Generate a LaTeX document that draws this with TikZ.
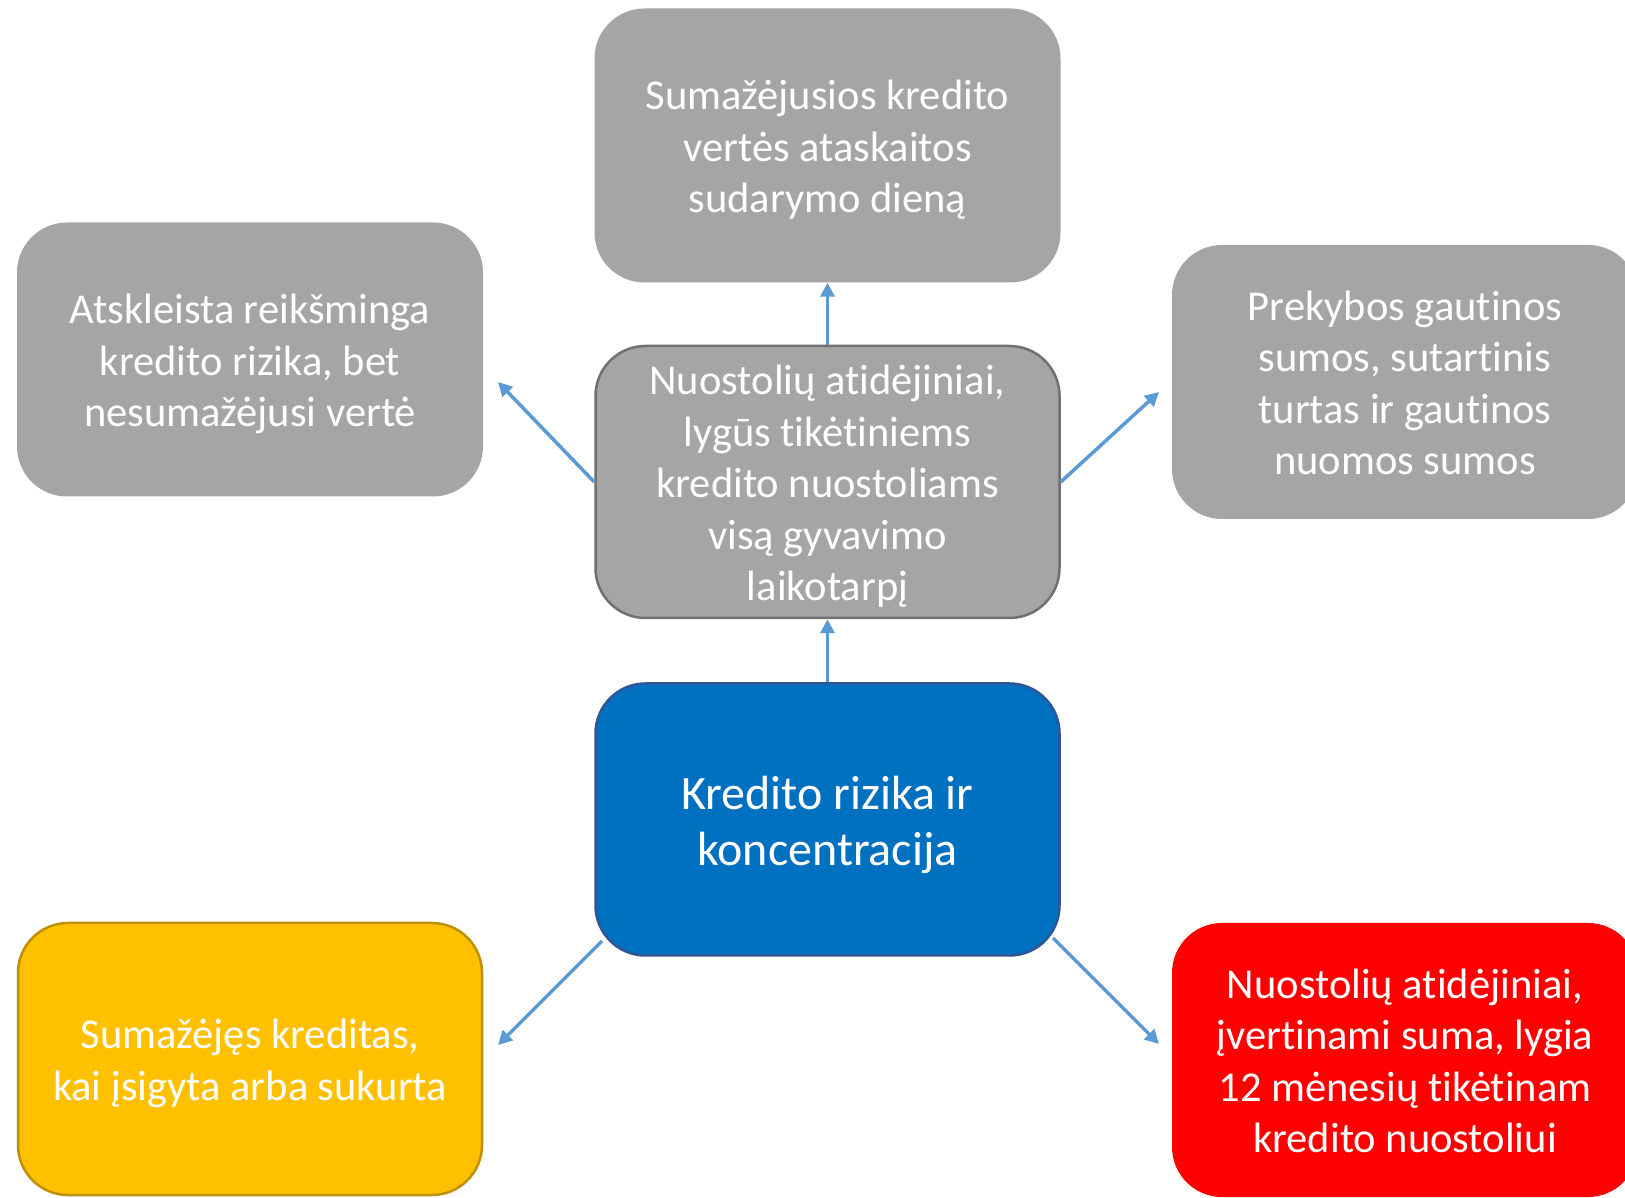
\documentclass[tikz,border=0pt]{standalone}
\usepackage{fontspec}
\setmainfont[RawFeature={-liga;-clig;-calt;-dlig}]{Carlito}
\usetikzlibrary{arrows.meta}
\definecolor{boxgray}{HTML}{A5A5A5}
\definecolor{grayedge}{HTML}{707070}
\definecolor{boxblue}{HTML}{0070C0}
\definecolor{blueedge}{HTML}{2F5597}
\definecolor{boxyellow}{HTML}{FFC000}
\definecolor{yellowedge}{HTML}{BF9000}
\definecolor{boxred}{HTML}{FF0000}
\definecolor{arrowblue}{HTML}{5B9BD5}
\newcommand\cardtop{\rule{0pt}{1.13em}}
\begin{document}
\begin{tikzpicture}[x=1pt,y=1pt,
  card/.style={rectangle, rounded corners=50pt, minimum width=466pt, minimum height=274pt,
    inner sep=0pt, align=center, text=white, font=\fontsize{42.5}{51.5}\selectfont,
    execute at end node={\rule[-0.39em]{0pt}{0.39em}}},
  graycard/.style={card, fill=boxgray},
  link/.style={draw=arrowblue, line width=3.5pt, -{Triangle[length=14pt,width=14pt]}}]
\useasboundingbox (0,0) rectangle (1625,1197);
\clip (0,0) rectangle (1625,1197);
\fill[white] (0,0) rectangle (1625,1197);

\node[graycard] (top) at (827.5,1051.5) {\cardtop Sumažėjusios kredito\\vertės ataskaitos\\sudarymo dieną};
\node[graycard] (left) at (250,837.5) {\cardtop Atskleista reikšminga\\kredito rizika, bet\\nesumažėjusi vertė};
\node[graycard, draw=grayedge, line width=2.5pt, minimum width=464pt, minimum height=272pt] (mid) at (827.5,715) {\cardtop Nuostolių atidėjiniai,\\lygūs tikėtiniems\\kredito nuostoliams\\visą gyvavimo\\laikotarpį};
\node[graycard] (right) at (1405,815) {\cardtop Prekybos gautinos\\sumos, sutartinis\\turtas ir gautinos\\nuomos sumos};
\node[card, fill=boxblue, draw=blueedge, line width=2.5pt, minimum width=464pt, minimum height=272pt,
  font=\fontsize{48}{56}\selectfont] (blue) at (827.5,377.5) {\cardtop Kredito rizika ir\\koncentracija};
\node[card, fill=boxyellow, draw=yellowedge, line width=2.5pt, minimum width=464pt, minimum height=272pt] (yellow) at (250,138) {\cardtop Sumažėjęs kreditas,\\kai įsigyta arba sukurta};
\node[card, fill=boxred] (red) at (1405,137) {\cardtop Nuostolių atidėjiniai,\\įvertinami suma, lygia\\12 mėnesių tikėtinam\\kredito nuostoliui};

\coordinate (tipL) at (498,815);
\coordinate (tipR) at (1159,805);
\coordinate (startBL) at (602,256);
\coordinate (tipBL) at (498,152);
\coordinate (startBR) at (1053,259);
\coordinate (tipBR) at (1159,153);

\draw[link] (mid.north) -- (top.south);
\draw[link] (blue.north) -- (mid.south);
\draw[link] (mid.west) -- (tipL);
\draw[link] (mid.east) -- (tipR);
\draw[link] (startBL) -- (tipBL);
\draw[link] (startBR) -- (tipBR);
\end{tikzpicture}
\end{document}
